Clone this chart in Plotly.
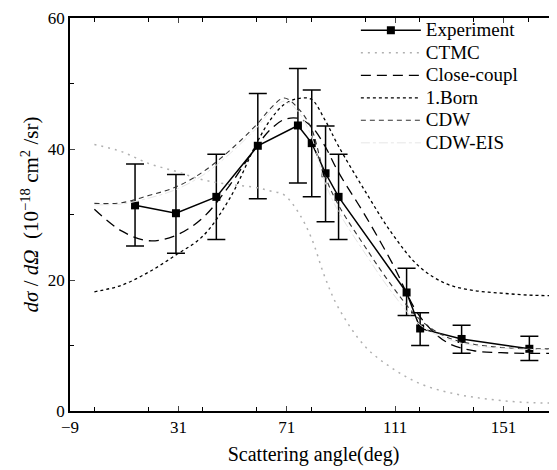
import plotly.graph_objects as go

# Experiment
exp_x = [15.0, 30.1, 45.0, 60.3, 75.1, 80.2, 85.3, 90.1, 115.2, 120.2, 135.5, 160.5]
exp_y = [31.4, 30.2, 32.7, 40.5, 43.6, 40.9, 36.3, 32.7, 18.1, 12.6, 11.0, 9.5]
exp_hi = [37.7, 36.1, 39.2, 48.5, 52.3, 49.0, 43.5, 39.2, 21.8, 15.0, 13.1, 11.4]
exp_lo = [25.2, 24.1, 26.2, 32.4, 34.8, 32.7, 28.9, 26.2, 14.6, 10.0, 8.8, 7.7]

# Theory curves (common angle grid)
ang = [0, 10, 20, 30, 40, 50, 60, 65, 70, 75, 80, 85, 90, 100, 110, 120, 130, 140, 150, 160, 170]
ctmc = [40.7, 39.6, 37.8, 36.6, 35.3, 34.6, 34.1, 33.6, 33.0, 30.5, 26.5, 20.5, 15.8, 9.8, 6.5, 4.2, 2.9, 2.1, 1.6, 1.3, 1.2]
close_coupl = [30.8, 27.5, 26.0, 26.8, 29.5, 34.5, 40.5, 43.0, 44.5, 44.7, 43.5, 40.5, 36.5, 29.8, 22.5, 14.5, 10.5, 9.2, 8.9, 8.8, 8.8]
born1 = [18.2, 19.2, 21.2, 23.8, 26.7, 32.5, 41.0, 44.5, 46.8, 47.7, 47.6, 44.5, 40.5, 33.5, 27.0, 22.0, 19.4, 18.4, 18.0, 17.7, 17.6]
cdw = [31.7, 31.8, 32.9, 34.2, 36.5, 39.8, 43.8, 46.2, 47.8, 46.3, 43.2, 36.0, 31.5, 25.0, 19.0, 14.0, 11.3, 10.2, 9.7, 9.5, 9.5]
cdw_eis = [31.5, 31.6, 32.5, 33.8, 36.0, 39.3, 43.3, 45.8, 47.3, 45.8, 42.0, 35.0, 30.5, 24.0, 18.0, 13.2, 11.0, 10.0, 9.6, 9.4, 9.4]

names = ["Experiment", "CTMC", "Close-coupl", "1.Born", "CDW", "CDW-EIS"]

serif = "Liberation Serif"


def lg(name):
    return '<span style="font-size:19px">' + name + '</span>'


fig = go.Figure()
fig.add_trace(go.Scatter(
    x=exp_x, y=exp_y, name=lg(names[0]), mode="lines+markers",
    line=dict(color="black", width=1.5),
    marker=dict(symbol="square", size=8, color="black"),
    error_y=dict(type="data", symmetric=False,
                 array=[h - v for h, v in zip(exp_hi, exp_y)],
                 arrayminus=[v - l for l, v in zip(exp_lo, exp_y)],
                 color="black", thickness=1.5, width=9),
))
fig.add_trace(go.Scatter(x=ang, y=ctmc, name=lg(names[1]), mode="lines", line_shape="spline",
                         line=dict(color="#b0b0b0", width=1.5, dash="2px,5px")))
fig.add_trace(go.Scatter(x=ang, y=close_coupl, name=lg(names[2]), mode="lines", line_shape="spline",
                         line=dict(color="black", width=1.3, dash="10px,6px")))
fig.add_trace(go.Scatter(x=ang, y=born1, name=lg(names[3]), mode="lines", line_shape="spline",
                         line=dict(color="black", width=1.3, dash="dot")))
fig.add_trace(go.Scatter(x=ang, y=cdw, name=lg(names[4]), mode="lines", line_shape="spline",
                         line=dict(color="#333333", width=1.1, dash="5px,4px")))
fig.add_trace(go.Scatter(x=ang, y=cdw_eis, name=lg(names[5]), mode="lines", line_shape="spline",
                         line=dict(color="#e6e6e6", width=1, dash="dashdot")))

fig.update_layout(
    width=549, height=462,
    margin=dict(l=62, r=0, t=10, b=59, autoexpand=False),
    paper_bgcolor="white", plot_bgcolor="white",
    font=dict(family=serif, size=17, color="black"),
    showlegend=True,
    legend=dict(x=0.587, y=1.01, xanchor="left", yanchor="top",
                bgcolor="rgba(0,0,0,0)", font=dict(family=serif, size=15),
                itemwidth=60, tracegroupgap=0),
    xaxis=dict(range=[-9, 170.7], tick0=-9, dtick=40, ticks="inside", ticklen=5,
               showline=True, linecolor="black", linewidth=1.5, mirror="ticks",
               showgrid=False, zeroline=False,
               tickfont=dict(family=serif, size=17),
               minor=dict(dtick=20, ticks="inside", ticklen=4, tickcolor="black"),
               title=dict(text="Scattering angle(deg)", font=dict(family=serif, size=20), standoff=11)),
    yaxis=dict(range=[0, 60.01], tickmode="array", tickvals=[0, 20, 40, 60], ticktext=["0", "20", "40", "60"],
               ticks="inside", ticklen=5,
               showline=True, linecolor="black", linewidth=1.5, mirror=True,
               showgrid=False, zeroline=False,
               tickfont=dict(family=serif, size=17),
               minor=dict(tickvals=[10, 30, 50], ticks="inside", ticklen=4, tickcolor="black"),
               title=dict(text="<i>dσ</i> / <i>dΩ</i>  (10<sup>−18</sup> cm<sup>2</sup> /sr)",
                          font=dict(family=serif, size=21), standoff=3)),
)

fig.write_html("out.html")
